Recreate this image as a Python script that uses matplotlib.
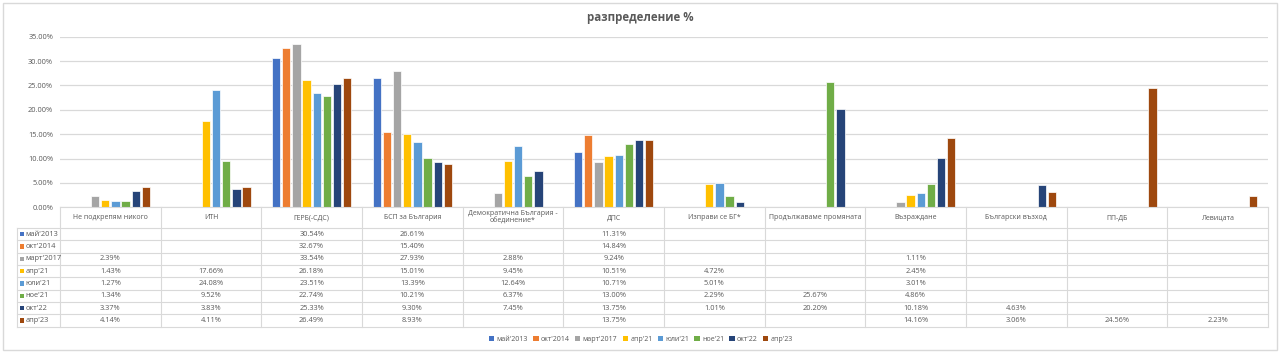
import numpy as np
import matplotlib
matplotlib.use("Agg")
import matplotlib.pyplot as plt
from matplotlib.transforms import blended_transform_factory
from matplotlib.patches import Rectangle, Patch
from matplotlib.lines import Line2D

plt.rcParams['font.family'] = ['Open Sans', 'DejaVu Sans']

nan = np.nan
categories = ["Не подкрепям никого", "ИТН", "ГЕРБ(-СДС)", "БСП за България",
              "Демократична България -\nобединение*", "ДПС", "Изправи се БГ*",
              "Продължаваме промяната", "Възраждане", "Български възход",
              "ПП-ДБ", "Левицата"]
series_names = ["май'2013", "окт'2014", "март'2017", "апр'21", "юли'21",
                "ное'21", "окт'22", "апр'23"]
may2013 = [nan, nan, 30.54, 26.61, nan, 11.31, nan, nan, nan, nan, nan, nan]
oct2014 = [nan, nan, 32.67, 15.40, nan, 14.84, nan, nan, nan, nan, nan, nan]
mar2017 = [2.39, nan, 33.54, 27.93, 2.88, 9.24, nan, nan, 1.11, nan, nan, nan]
apr21 = [1.43, 17.66, 26.18, 15.01, 9.45, 10.51, 4.72, nan, 2.45, nan, nan, nan]
jul21 = [1.27, 24.08, 23.51, 13.39, 12.64, 10.71, 5.01, nan, 3.01, nan, nan, nan]
nov21 = [1.34, 9.52, 22.74, 10.21, 6.37, 13.00, 2.29, 25.67, 4.86, nan, nan, nan]
oct22 = [3.37, 3.83, 25.33, 9.30, 7.45, 13.75, 1.01, 20.20, 10.18, 4.63, nan, nan]
apr23 = [4.14, 4.11, 26.49, 8.93, nan, 13.75, nan, nan, 14.16, 3.06, 24.56, 2.23]
series = [may2013, oct2014, mar2017, apr21, jul21, nov21, oct22, apr23]
colors = ["#4472C4", "#ED7D31", "#A5A5A5", "#FFC000", "#5B9BD5", "#70AD47",
          "#264478", "#9E480E"]

W, H = 1280, 353
TXT = "#595959"
GRID = "#d9d9d9"
FS = 5.3
FSH = 5.0

fig = plt.figure(figsize=(W / 100, H / 100), dpi=100)

def fy(px):
    return 1 - px / H

x0, x1 = 60, 1268
ytop, ybot = 36.7, 207.3
ax = fig.add_axes([x0 / W, fy(ybot), (x1 - x0) / W, (ybot - ytop) / H])

n = len(categories)
slot = 0.101
width = 0.082
base = np.arange(n) + 0.5
for j, (vals, c) in enumerate(zip(series, colors)):
    ax.bar(base + (j - 3.5) * slot, vals, width=width, color=c,
           edgecolor="white", linewidth=0.5, zorder=3)

ax.set_xlim(0, n)
ax.set_ylim(0, 35)
ax.set_yticks(np.arange(0, 35.01, 5))
ax.set_yticklabels([f"{v:.2f}%" for v in np.arange(0, 35.01, 5)])
ax.tick_params(axis='y', length=0, labelsize=FS, labelcolor=TXT, pad=5)
ax.set_xticks([])
ax.grid(axis='y', color=GRID, linewidth=0.9, zorder=0)
for s in ax.spines.values():
    s.set_visible(False)

# Title
fig.text(0.5, fy(18), "разпределение %", ha='center', va='center',
         fontsize=8.3, fontweight='bold', color=TXT)

# Data table
tr = blended_transform_factory(ax.transData, fig.transFigure)
hdr_bot = 228.0
tbl_bot = 326.7
rowh = (tbl_bot - hdr_bot) / len(series)

for i in range(n + 1):
    fig.add_artist(Line2D([i, i], [fy(ybot), fy(tbl_bot)], transform=tr,
                          color=GRID, linewidth=0.8))
fig.add_artist(Line2D([17 / W, 17 / W], [fy(hdr_bot), fy(tbl_bot)],
                      transform=fig.transFigure, color=GRID, linewidth=0.8))
fig.add_artist(Line2D([x0 / W, x1 / W], [fy(ybot), fy(ybot)],
                      transform=fig.transFigure, color=GRID, linewidth=0.8))
for r in range(len(series) + 1):
    yy = hdr_bot + r * rowh
    fig.add_artist(Line2D([17 / W, x1 / W], [fy(yy), fy(yy)],
                          transform=fig.transFigure, color=GRID, linewidth=0.8))

for i, cat in enumerate(categories):
    fig.text(i + 0.5, fy((ybot + hdr_bot) / 2), cat, transform=tr,
             ha='center', va='center', fontsize=FSH, color=TXT, linespacing=1.15)

for r, (name, vals, c) in enumerate(zip(series_names, series, colors)):
    yc = hdr_bot + (r + 0.5) * rowh
    fig.add_artist(Rectangle((19.5 / W, fy(yc + 2.3)), 4.5 / W, 4.6 / H,
                             transform=fig.transFigure, facecolor=c,
                             edgecolor='none'))
    fig.text(25.5 / W, fy(yc), name, ha='left', va='center', fontsize=FS,
             color=TXT)
    for i, v in enumerate(vals):
        if not np.isnan(v):
            fig.text(i + 0.5, fy(yc), f"{v:.2f}%", transform=tr,
                     ha='center', va='center', fontsize=FS, color=TXT)

# Legend
handles = [Patch(facecolor=c, edgecolor='none') for c in colors]
leg = fig.legend(handles, series_names, loc='center',
                 bbox_to_anchor=(641 / W, fy(339.5)), ncol=8, frameon=False,
                 fontsize=FSH, handlelength=0.75, handleheight=0.75,
                 handletextpad=0.35, columnspacing=0.75, labelcolor=TXT)

# Outer chart border
fig.add_artist(Rectangle((3 / W, 3 / H), (W - 6) / W, (H - 6) / H,
                         transform=fig.transFigure, facecolor='none',
                         edgecolor=GRID, linewidth=1.0))

fig.savefig("out.png", dpi=100, facecolor='white')
